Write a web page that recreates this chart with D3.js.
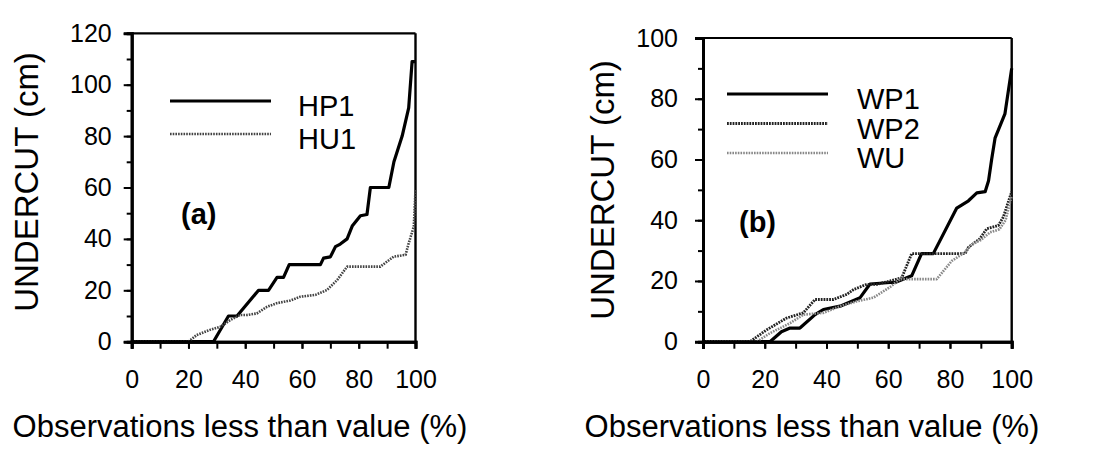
<!DOCTYPE html>
<html>
<head>
<meta charset="utf-8">
<script src="https://cdn.jsdelivr.net/npm/d3@7"></script>
<style>
body { margin: 0; background: #fff; }
</style>
</head>
<body>
<div id="container"></div>
<script>
/* Données (x = % d'observations, y = affouillement en cm) */
const xTicks = [0, 20, 40, 60, 80, 100];
const yTicksA = [0, 20, 40, 60, 80, 100, 120];
const yTicksB = [0, 20, 40, 60, 80, 100];

const hp1X = [0, 28.8, 34.1, 37.1, 44.7, 48.2, 51.2, 53.5, 55.5, 66.5, 67.6, 70, 71.8, 73.5, 75.9, 77.7, 80.6, 82.9, 84.1, 90.6, 92.4, 95.3, 97.6, 98.8, 100];
const hp1Y = [0, 0, 10, 10, 20, 20, 25, 25, 30, 30, 32.5, 33, 37, 38, 40, 45, 49, 49.5, 60, 60, 70, 80, 91, 109, 109];

const hu1X = [0, 20, 22.9, 27.6, 31.2, 34.7, 38.2, 40.6, 44.1, 47.7, 51.2, 55.9, 59.4, 64.7, 68.8, 72.4, 75.9, 87.6, 90, 92.3, 96.5, 97.6, 99.4, 100];
const hu1Y = [0, 0, 2.6, 4.6, 5.8, 8.4, 10.4, 10.4, 11, 13.6, 15, 16, 17.5, 18.2, 20.1, 24, 29.2, 29.2, 31.2, 33.1, 33.8, 38.3, 44.8, 59];

const wp1X = [0, 21.7, 25.4, 28.2, 31.4, 36.3, 39, 44.4, 50.9, 54.1, 60.6, 62.2, 67.6, 70.8, 74.6, 82.2, 86, 88.7, 91.4, 92.5, 93.5, 94.6, 97.8, 100];
const wp1Y = [0, 0, 3.3, 4.5, 4.5, 8.9, 10.6, 11.7, 14.5, 19, 19.5, 19.5, 21.7, 29, 29, 44, 46.4, 49, 49.4, 53, 60, 67, 75, 90];

const wp2X = [0, 15.2, 20.6, 27.1, 32.5, 36.3, 42.3, 46.6, 48.8, 53.1, 56.3, 60.6, 64.4, 67.6, 84.9, 86, 89.7, 91.9, 95.7, 97.3, 100];
const wp2Y = [0, 0, 3.9, 7.8, 9.5, 13.9, 13.9, 15.6, 17.2, 18.9, 18.9, 20, 21.1, 29, 29, 31.1, 33.9, 37.2, 38.3, 41.1, 49.4];

const wuX = [0, 17.4, 21.7, 28.2, 32.5, 39, 44.4, 49.8, 55.2, 60.6, 63.8, 75.7, 77.9, 80.6, 84.9, 87, 90, 93, 96, 98, 100];
const wuY = [0, 0, 2.8, 6.1, 8.9, 9.5, 11.7, 13.3, 14.5, 18, 20.6, 20.6, 23.3, 26.6, 29.5, 32, 33.5, 36, 37, 40, 48];

/* Police */
const fontPolice = "'Liberation Sans', Arial, sans-serif";

/* Styles des courbes */
const styles = {
	HP1: {color: "#000", width: 3.2, dash: null},
	HU1: {color: "#444", width: 2.6, dash: "1.6,1.1"},
	WP1: {color: "#000", width: 3.2, dash: null},
	WP2: {color: "#222", width: 2.8, dash: "1.8,1"},
	WU:  {color: "#888", width: 2.6, dash: "1.6,1.1"}
};

const svg = d3.select("#container").append("svg")
	.attr("width", 1105)
	.attr("height", 449);

function drawPanel(p) {
	const x = d3.scaleLinear().domain([0, 100]).range([p.left, p.right]);
	const y = d3.scaleLinear().domain([0, p.yMax]).range([p.bottom, p.top]);
	const g = svg.append("g");

	/* cadre haut et droit */
	g.append("line").attr("x1", x(0)).attr("x2", x(100)).attr("y1", y(p.yMax)).attr("y2", y(p.yMax))
		.attr("stroke", "#000").attr("stroke-width", 2.2);
	g.append("line").attr("x1", x(100)).attr("x2", x(100)).attr("y1", y(0)).attr("y2", y(p.yMax))
		.attr("stroke", "#000").attr("stroke-width", 2.4);

	/* courbes */
	const line = d3.line().x(d => x(d[0])).y(d => y(d[1]));
	p.series.forEach(s => {
		const st = styles[s.name];
		g.append("path")
			.datum(d3.zip(s.xs, s.ys))
			.attr("d", line)
			.attr("fill", "none")
			.attr("stroke", st.color)
			.attr("stroke-width", st.width)
			.attr("stroke-dasharray", st.dash)
			.attr("stroke-linejoin", "round");
	});

	/* axe Y : petites graduations puis grandes */
	g.append("g").attr("transform", "translate(" + x(0) + ",0)")
		.call(d3.axisLeft(y).tickValues(d3.range(0, p.yMax + 1, 10)).tickSize(5).tickFormat(""));
	g.append("g").attr("transform", "translate(" + x(0) + ",0)")
		.call(d3.axisLeft(y).tickValues(p.yTicks).tickSize(8).tickPadding(p.yPad));

	/* axe X */
	g.append("g").attr("transform", "translate(0," + y(0) + ")")
		.call(d3.axisBottom(x).tickValues(d3.range(0, 101, 10)).tickSize(7).tickFormat(""));
	g.append("g").attr("transform", "translate(0," + y(0) + ")")
		.call(d3.axisBottom(x).tickValues(xTicks).tickSize(7).tickPadding(22));

	g.selectAll(".domain").attr("stroke", "#000").attr("stroke-width", 3);
	g.selectAll(".tick line").attr("stroke", "#000").attr("stroke-width", 2);
	g.selectAll(".tick text")
		.style("font-family", fontPolice)
		.style("font-size", "25px")
		.attr("fill", "#000");

	/* titres des axes */
	g.append("text")
		.attr("transform", "translate(" + p.yTitleX + "," + p.yTitleY + ") rotate(-90)")
		.style("text-anchor", "middle")
		.style("font-family", fontPolice)
		.style("font-size", "33px")
		.text("UNDERCUT (cm)");
	g.append("text")
		.attr("x", p.xTitleX).attr("y", 437)
		.style("text-anchor", "middle")
		.style("font-family", fontPolice)
		.style("font-size", "31px")
		.text("Observations less than value (%)");

	/* étiquette du panneau */
	g.append("text")
		.attr("x", p.tagX).attr("y", p.tagY)
		.style("font-family", fontPolice)
		.style("font-size", "29px")
		.style("font-weight", "bold")
		.text(p.tag);

	/* légende */
	p.series.forEach((s, i) => {
		const st = styles[s.name];
		const ly = p.legY + i * p.legStep;
		g.append("line")
			.attr("x1", p.legX).attr("x2", p.legX + 101)
			.attr("y1", ly).attr("y2", ly)
			.attr("stroke", st.color)
			.attr("stroke-width", st.width)
			.attr("stroke-dasharray", st.dash);
		g.append("text")
			.attr("x", p.legTextX).attr("y", ly + 15)
			.style("font-family", fontPolice)
			.style("font-size", "29px")
			.text(s.name);
	});
}

drawPanel({
	left: 131.7, right: 415.5, top: 33.3, bottom: 341.7, yMax: 120,
	yTicks: yTicksA, yPad: 12,
	yTitleX: 38, yTitleY: 182, xTitleX: 240,
	tag: "(a)", tagX: 181, tagY: 224,
	legX: 170, legY: 101, legStep: 33, legTextX: 298,
	series: [
		{name: "HP1", xs: hp1X, ys: hp1Y},
		{name: "HU1", xs: hu1X, ys: hu1Y}
	]
});

drawPanel({
	left: 703, right: 1011.7, top: 38, bottom: 341.7, yMax: 100,
	yTicks: yTicksB, yPad: 17,
	yTitleX: 614, yTitleY: 190, xTitleX: 812,
	tag: "(b)", tagX: 739, tagY: 232,
	legX: 727, legY: 94, legStep: 29.5, legTextX: 857,
	series: [
		{name: "WP1", xs: wp1X, ys: wp1Y},
		{name: "WP2", xs: wp2X, ys: wp2Y},
		{name: "WU", xs: wuX, ys: wuY}
	]
});
</script>
</body>
</html>
